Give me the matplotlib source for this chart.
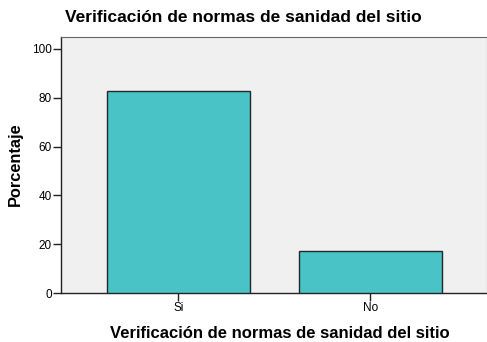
import matplotlib
matplotlib.use("Agg")
import matplotlib.pyplot as plt
import numpy as np

# percentage of sites per answer
categories = ["Si", "No"]
percentages = [82.8, 17.2]

title = "Verificación de normas de sanidad del sitio"

plt.rcParams["font.family"] = ["Liberation Sans", "DejaVu Sans"]

fig = plt.figure(figsize=(4.87, 3.42), dpi=100)
ax = fig.add_axes([61 / 487, 1 - 293 / 342, 426 / 487, 256 / 342])
ax.set_facecolor("#f0f0f0")

xs = np.arange(len(categories))
ax.bar(xs, percentages, width=0.745, color="#4ac3c6",
       edgecolor="#1f2a2a", linewidth=1.0, zorder=3)

ax.set_xlim(-0.612, 1.607)
ax.set_ylim(0, 104.9)
ax.set_yticks([0, 20, 40, 60, 80, 100])
ax.set_xticks(xs)
ax.set_xticklabels(categories)
ax.tick_params(axis="both", labelsize=8.5, length=5.5, width=1,
               color="#222222", pad=1)

for side in ["top", "right"]:
    ax.spines[side].set_color("#666666")
for side in ["left", "bottom"]:
    ax.spines[side].set_color("#222222")
    ax.spines[side].set_linewidth(1)

fig.text(65 / 487, 1 - 18 / 342, title, fontsize=12.5, fontweight="bold",
         ha="left", va="center")
fig.text(280 / 487, 1 - 334 / 342, title, fontsize=12, fontweight="bold",
         ha="center", va="center")
fig.text(15 / 487, 1 - 164 / 342, "Porcentaje", fontsize=11.8,
         fontweight="bold", rotation=90, ha="center", va="center")

fig.savefig("out.png", dpi=100)
